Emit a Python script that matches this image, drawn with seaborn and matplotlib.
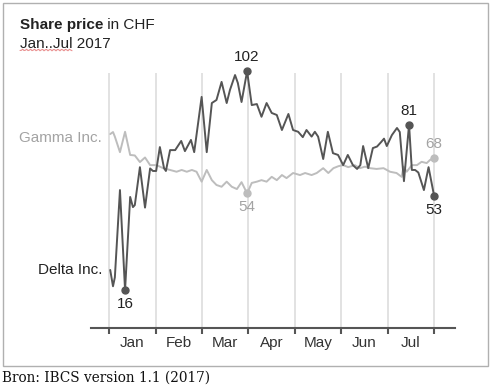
import matplotlib
matplotlib.use("Agg")
import matplotlib.pyplot as plt
from matplotlib.lines import Line2D
from matplotlib.patches import Rectangle
import numpy as np
import pandas as pd
import seaborn as sns

MONTHS = ["Jan", "Feb", "Mar", "Apr", "May", "Jun", "Jul"]

# x = position in months since 1 Jan 2017 (months drawn equally wide)
delta_pos = [0.02, 0.08, 0.12, 0.23, 0.34, 0.45, 0.51, 0.55, 0.66, 0.77, 0.88, 0.94,
             1.01, 1.09, 1.18, 1.22, 1.31, 1.42, 1.55, 1.63, 1.76, 1.83, 1.99, 2.10,
             2.21, 2.31, 2.42, 2.53, 2.60, 2.71, 2.77, 2.85, 2.97, 3.07, 3.18, 3.28,
             3.39, 3.50, 3.61, 3.72, 3.86, 3.96, 4.07, 4.17, 4.25, 4.36, 4.43, 4.50,
             4.61, 4.71, 4.82, 4.93, 5.04, 5.14, 5.25, 5.34, 5.41, 5.47, 5.58, 5.68,
             5.77, 5.86, 5.92, 5.98, 6.09, 6.20, 6.26, 6.35, 6.46, 6.52, 6.59, 6.66,
             6.78, 6.88, 7.00]
delta_price = [23.9, 17.5, 21.0, 55.3, 16, 52.6, 48.6, 49.4, 64.3, 48.4, 63.8, 62.8,
               62.8, 72.2, 63.9, 62.8, 71.0, 71.0, 74.6, 70.6, 75.0, 70.2, 91.9, 70.2,
               89.5, 90.7, 97.8, 89.5, 94.6, 100.5, 97.4, 89.9, 102, 88.7, 89.1, 84.1,
               89.5, 85.6, 84.8, 78.9, 85.2, 78.9, 78.2, 76.1, 78.9, 76.3, 78.2, 76.3,
               67.5, 78.2, 69.8, 69.1, 65.1, 69.1, 65.1, 63.6, 65.1, 72.6, 63.9, 71.8,
               72.4, 74.2, 75.5, 72.6, 76.9, 79.7, 78.1, 58.8, 81, 63.2, 63.2, 62.2,
               55.3, 64.3, 53]

gamma_pos = [0.02, 0.08, 0.12, 0.23, 0.34, 0.45, 0.55, 0.66, 0.77, 0.88, 1.02, 1.16,
             1.31, 1.45, 1.56, 1.67, 1.78, 1.88, 1.99, 2.10, 2.21, 2.31, 2.42, 2.53,
             2.64, 2.75, 2.85, 2.97, 3.07, 3.18, 3.28, 3.39, 3.50, 3.61, 3.72, 3.82,
             3.96, 4.11, 4.22, 4.36, 4.47, 4.61, 4.72, 4.83, 4.94, 5.04, 5.15, 5.29,
             5.40, 5.51, 5.62, 5.76, 5.91, 6.05, 6.19, 6.30, 6.34, 6.41, 6.52, 6.63,
             6.73, 6.84, 6.91, 7.00]
gamma_price = [77.3, 78.1, 76.3, 70.2, 78.2, 69.1, 68.9, 66.3, 68.1, 65.1, 65.1, 63.9,
               63.2, 62.5, 63.2, 62.5, 63.2, 62.5, 58.6, 63.2, 59.2, 57.3, 56.6, 58.6,
               56.6, 55.7, 58.4, 54, 58.1, 58.6, 59.2, 58.6, 60.5, 59.2, 61.2, 60.0,
               62.0, 61.2, 62.0, 61.2, 62.0, 63.9, 62.0, 63.9, 64.7, 65.1, 64.3, 65.1,
               63.9, 64.5, 63.9, 63.6, 63.9, 62.5, 62.0, 60.5, 64.5, 62.5, 65.1, 65.1,
               66.4, 65.9, 67.1, 68]

# highlighted points: (position, label above?)
delta_marks = [(0.34, False), (2.97, True), (6.46, True), (7.00, False)]
gamma_marks = [(2.97, False), (7.00, True)]

DELTA_COLOR = "#555555"
DELTA_TEXT = "#222222"
GAMMA_COLOR = "#bdbdbd"
GAMMA_TEXT = "#a3a3a3"

sns.set_style("white")
plt.rcParams["font.family"] = ["Liberation Sans", "DejaVu Sans"]
plt.rcParams["font.size"] = 11

fig = plt.figure(figsize=(4.91, 3.90), dpi=100)
ax = fig.add_axes([91 / 491, 62 / 390, 364 / 491, 255 / 390])

delta = pd.DataFrame({"pos": delta_pos, "price": delta_price})
gamma = pd.DataFrame({"pos": gamma_pos, "price": gamma_price})

for m in range(len(MONTHS) + 1):
    ax.axvline(m, color="#dadada", lw=1.1, zorder=0)

sns.lineplot(data=gamma, x="pos", y="price", ax=ax, color=GAMMA_COLOR, lw=1.4)
sns.lineplot(data=delta, x="pos", y="price", ax=ax, color=DELTA_COLOR, lw=1.4)


def mark(df, marks, dot_color, text_color):
    for pos, above in marks:
        val = df.loc[(df["pos"] - pos).abs().idxmin(), "price"]
        ax.plot(pos, val, "o", ms=5, color=dot_color, clip_on=False, zorder=5)
        ax.annotate(f"{val:g}", (pos, val), xytext=(0, 10 if above else -10),
                    textcoords="offset points", ha="center", va="center",
                    color=text_color, fontsize=11, annotation_clip=False)


mark(gamma, gamma_marks, GAMMA_COLOR, GAMMA_TEXT)
mark(delta, delta_marks, DELTA_COLOR, DELTA_TEXT)

ax.annotate("Gamma Inc.", (gamma_pos[0], gamma_price[0]), xytext=(-6, -3),
            textcoords="offset points", ha="right", va="center", color=GAMMA_TEXT,
            annotation_clip=False)
ax.annotate("Delta Inc.", (delta_pos[0], delta_price[0]), xytext=(-6, 0),
            textcoords="offset points", ha="right", va="center", color=DELTA_TEXT,
            annotation_clip=False)

ax.set_xlim(-0.394, 7.45)
ax.set_ylim(1.1, 101.3)
ax.set_xlabel("")
ax.set_ylabel("")
ax.set_yticks([])
ax.set_xticks(range(len(MONTHS) + 1))
ax.set_xticklabels([])
ax.set_xticks([m + 0.5 for m in range(len(MONTHS))], minor=True)
ax.set_xticklabels(MONTHS, minor=True, color="#333333", fontsize=11)
ax.tick_params(axis="x", which="major", direction="out", length=4, width=1.5,
               color="#555555", bottom=True)
ax.tick_params(axis="x", which="minor", length=0, pad=6)
for side in ["top", "left", "right"]:
    ax.spines[side].set_visible(False)
ax.spines["bottom"].set_color("#555555")
ax.spines["bottom"].set_linewidth(1.5)
ax.patch.set_alpha(0)

# title
t1 = fig.text(20 / 491, 1 - 29 / 390, "Share price", fontweight="bold",
              color="#222222", fontsize=11, va="baseline")
fig.canvas.draw()
bb = t1.get_window_extent()
fig.text(bb.x1 / fig.bbox.width, 1 - 29 / 390, " in CHF", color="#222222",
         fontsize=11, va="baseline")
fig.text(20 / 491, 1 - 47.5 / 390, "Jan..Jul 2017", color="#222222",
         fontsize=11, va="baseline")
wx = np.linspace(20, 72, 40)
wy = 50 + 0.8 * np.sin(wx * 1.6)
fig.add_artist(Line2D(wx / 491, 1 - wy / 390, color="#e06060", lw=0.8, alpha=0.7))

# frame and source
fig.add_artist(Rectangle((3 / 491, 1 - 366 / 390), 485 / 491, 363 / 390,
                         fill=False, edgecolor="#b0b0b0", lw=1.0))
fig.text(2 / 491, 1 - 378 / 390, "Bron: IBCS version 1.1 (2017)",
         family=["DejaVu Serif"], fontsize=9.8, color="#111111", va="center")

fig.savefig("out.png", dpi=100)
